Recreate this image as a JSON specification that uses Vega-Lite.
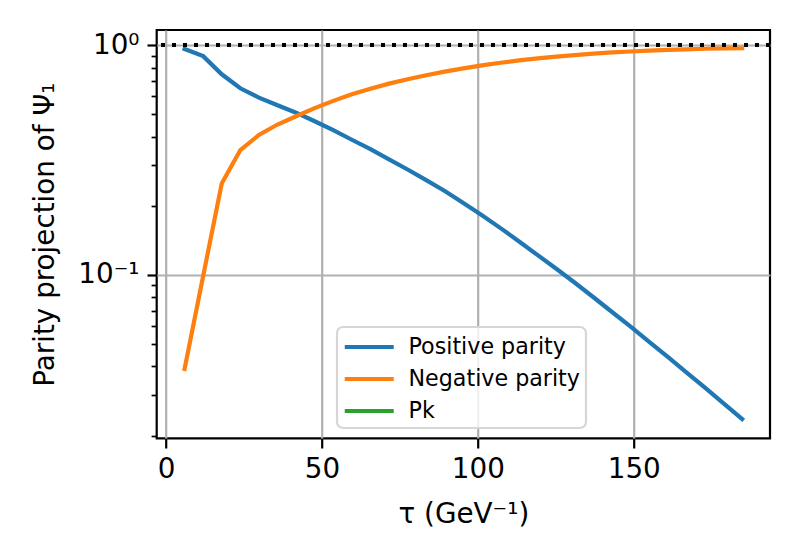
{
  "$schema": "https://vega.github.io/schema/vega-lite/v6.json",
  "description": "Parity projection of Psi_1 against tau, log y axis.",
  "width": 613.3,
  "height": 408.3,
  "autosize": {"type": "none"},
  "padding": {"left": 156.7, "top": 30, "right": 30, "bottom": 121.7},
  "background": "white",
  "config": {
    "font": "DejaVu Sans",
    "view": {"stroke": "black", "strokeWidth": 2.2},
    "legend": {"strokeWidth": 2.2},
    "axis": {
      "domain": false,
      "grid": true,
      "gridColor": "#b0b0b0",
      "gridWidth": 2.2,
      "tickColor": "black",
      "labelColor": "black",
      "titleColor": "black",
      "labelFont": "DejaVu Sans",
      "titleFont": "DejaVu Sans",
      "labelFontSize": 27.8,
      "titleFontSize": 27.8,
      "titleFontWeight": "normal"
    }
  },
  "data": {
    "values": [
      {"tau": 5.96, "value": 0.964, "series": "Positive parity"},
      {"tau": 11.92, "value": 0.897, "series": "Positive parity"},
      {"tau": 17.88, "value": 0.748, "series": "Positive parity"},
      {"tau": 23.84, "value": 0.65, "series": "Positive parity"},
      {"tau": 29.8, "value": 0.592, "series": "Positive parity"},
      {"tau": 35.76, "value": 0.548, "series": "Positive parity"},
      {"tau": 41.72, "value": 0.509, "series": "Positive parity"},
      {"tau": 47.68, "value": 0.467, "series": "Positive parity"},
      {"tau": 53.64, "value": 0.427, "series": "Positive parity"},
      {"tau": 59.6, "value": 0.388, "series": "Positive parity"},
      {"tau": 65.56, "value": 0.353, "series": "Positive parity"},
      {"tau": 71.52, "value": 0.319, "series": "Positive parity"},
      {"tau": 77.48, "value": 0.288, "series": "Positive parity"},
      {"tau": 83.44, "value": 0.259, "series": "Positive parity"},
      {"tau": 89.4, "value": 0.232, "series": "Positive parity"},
      {"tau": 95.36, "value": 0.206, "series": "Positive parity"},
      {"tau": 101.32, "value": 0.182, "series": "Positive parity"},
      {"tau": 107.28, "value": 0.16, "series": "Positive parity"},
      {"tau": 113.24, "value": 0.14, "series": "Positive parity"},
      {"tau": 119.2, "value": 0.122, "series": "Positive parity"},
      {"tau": 125.16, "value": 0.1064, "series": "Positive parity"},
      {"tau": 131.12, "value": 0.0925, "series": "Positive parity"},
      {"tau": 137.08, "value": 0.08, "series": "Positive parity"},
      {"tau": 143.04, "value": 0.069, "series": "Positive parity"},
      {"tau": 149.0, "value": 0.0596, "series": "Positive parity"},
      {"tau": 154.96, "value": 0.0512, "series": "Positive parity"},
      {"tau": 160.92, "value": 0.044, "series": "Positive parity"},
      {"tau": 166.88, "value": 0.0377, "series": "Positive parity"},
      {"tau": 172.84, "value": 0.0323, "series": "Positive parity"},
      {"tau": 178.8, "value": 0.0276, "series": "Positive parity"},
      {"tau": 184.76, "value": 0.0236, "series": "Positive parity"},
      {"tau": 5.96, "value": 0.039, "series": "Negative parity"},
      {"tau": 11.92, "value": 0.099, "series": "Negative parity"},
      {"tau": 17.88, "value": 0.25, "series": "Negative parity"},
      {"tau": 23.84, "value": 0.35, "series": "Negative parity"},
      {"tau": 29.8, "value": 0.407, "series": "Negative parity"},
      {"tau": 35.76, "value": 0.452, "series": "Negative parity"},
      {"tau": 41.72, "value": 0.491, "series": "Negative parity"},
      {"tau": 47.68, "value": 0.533, "series": "Negative parity"},
      {"tau": 53.64, "value": 0.573, "series": "Negative parity"},
      {"tau": 59.6, "value": 0.612, "series": "Negative parity"},
      {"tau": 65.56, "value": 0.647, "series": "Negative parity"},
      {"tau": 71.52, "value": 0.681, "series": "Negative parity"},
      {"tau": 77.48, "value": 0.712, "series": "Negative parity"},
      {"tau": 83.44, "value": 0.741, "series": "Negative parity"},
      {"tau": 89.4, "value": 0.768, "series": "Negative parity"},
      {"tau": 95.36, "value": 0.794, "series": "Negative parity"},
      {"tau": 101.32, "value": 0.818, "series": "Negative parity"},
      {"tau": 107.28, "value": 0.84, "series": "Negative parity"},
      {"tau": 113.24, "value": 0.86, "series": "Negative parity"},
      {"tau": 119.2, "value": 0.878, "series": "Negative parity"},
      {"tau": 125.16, "value": 0.893, "series": "Negative parity"},
      {"tau": 131.12, "value": 0.907, "series": "Negative parity"},
      {"tau": 137.08, "value": 0.92, "series": "Negative parity"},
      {"tau": 143.04, "value": 0.931, "series": "Negative parity"},
      {"tau": 149.0, "value": 0.94, "series": "Negative parity"},
      {"tau": 154.96, "value": 0.948, "series": "Negative parity"},
      {"tau": 160.92, "value": 0.955, "series": "Negative parity"},
      {"tau": 166.88, "value": 0.961, "series": "Negative parity"},
      {"tau": 172.84, "value": 0.966, "series": "Negative parity"},
      {"tau": 178.8, "value": 0.969, "series": "Negative parity"},
      {"tau": 184.76, "value": 0.971, "series": "Negative parity"}
    ]
  },
  "layer": [
    {
      "mark": {"type": "line", "strokeWidth": 4.2, "strokeCap": "square"},
      "encoding": {
        "x": {
          "field": "tau",
          "type": "quantitative",
          "scale": {"domain": [-2.98, 193.7], "nice": false, "zero": false},
          "axis": {
            "title": "τ (GeV⁻¹)",
            "values": [0, 50, 100, 150],
            "tickSize": 9.7,
            "tickWidth": 2.2,
            "labelPadding": 7,
            "titlePadding": 18
          }
        },
        "y": {
          "field": "value",
          "type": "quantitative",
          "scale": {"type": "log", "domain": [0.01945, 1.166], "nice": false},
          "axis": {
            "title": "Parity projection of Ψ₁",
            "values": [0.02, 0.03, 0.04, 0.05, 0.06, 0.07, 0.08, 0.09, 0.1, 0.2, 0.3, 0.4, 0.5, 0.6, 0.7, 0.8, 0.9, 1],
            "labelExpr": "datum.value == 1 ? '10⁰' : (datum.value == 0.1 ? '10⁻¹' : '')",
            "labelOverlap": false,
            "labelPadding": 8,
            "titlePadding": 18,
            "tickSize": {"condition": {"test": "datum.value == 1 || datum.value == 0.1", "value": 9.7}, "value": 5.6},
            "tickWidth": {"condition": {"test": "datum.value == 1 || datum.value == 0.1", "value": 2.2}, "value": 1.7},
            "gridOpacity": {"condition": {"test": "datum.value == 1 || datum.value == 0.1", "value": 1}, "value": 0}
          }
        },
        "color": {
          "field": "series",
          "type": "nominal",
          "sort": null,
          "scale": {
            "domain": ["Positive parity", "Negative parity", "Pk"],
            "range": ["#1f77b4", "#ff7f0e", "#2ca02c"]
          },
          "legend": {
            "title": null,
            "orient": "none",
            "legendX": 180.3,
            "legendY": 297,
            "symbolType": "M-1,0H3",
            "symbolSize": 600,
            "symbolStrokeWidth": 4.2,
            "labelFont": "DejaVu Sans",
            "labelFontSize": 22.2,
            "labelColor": "black",
            "labelLimit": 400,
            "labelOffset": 37,
            "rowPadding": 6,
            "padding": 5.5,
            "fillColor": "rgba(255,255,255,0.8)",
            "strokeColor": "#d6d6d6",
            "cornerRadius": 6
          }
        }
      }
    },
    {
      "mark": {"type": "rule", "color": "black", "strokeWidth": 3.5, "strokeDash": [3.5, 7.5], "strokeCap": "butt"},
      "encoding": {"y": {"datum": 1}}
    }
  ]
}
